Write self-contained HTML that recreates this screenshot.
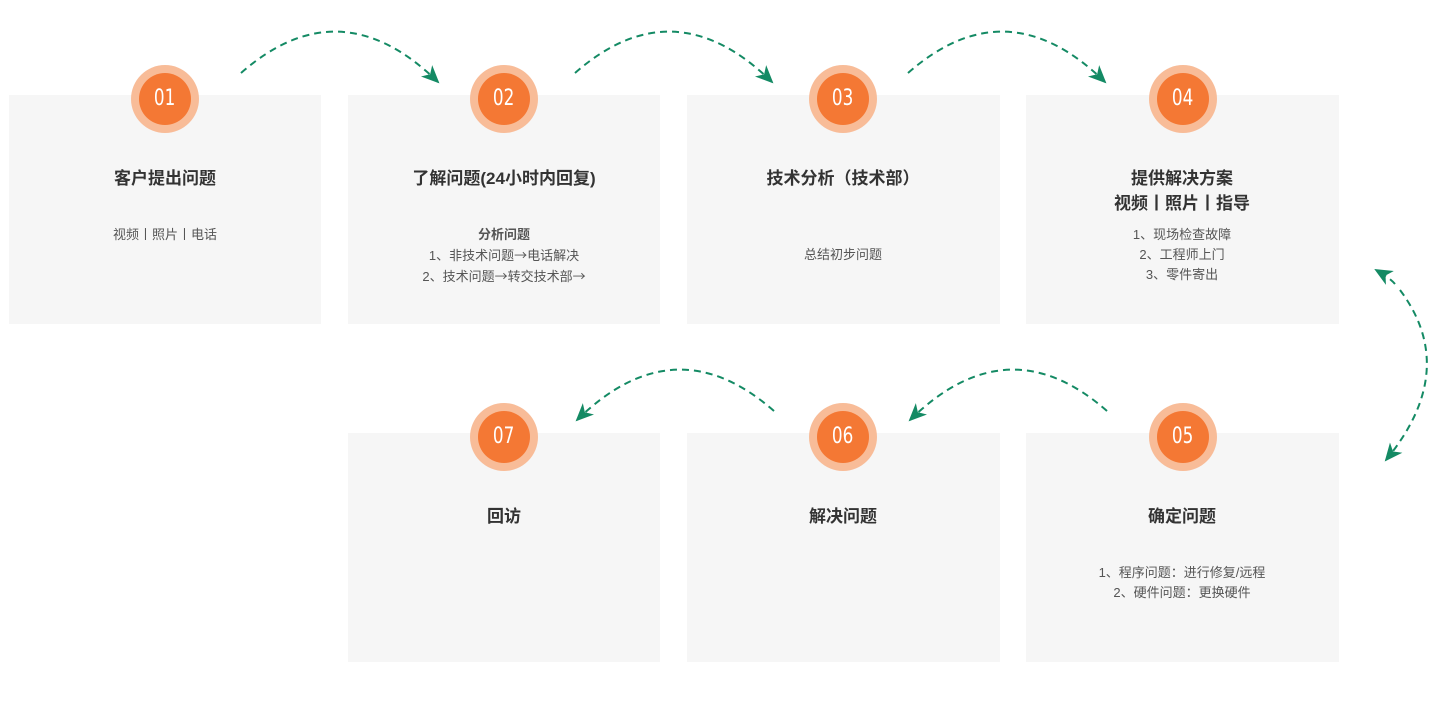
<!DOCTYPE html>
<html><head><meta charset="utf-8"><style>
body{margin:0;width:1447px;height:705px;background:#fff;position:relative;overflow:hidden;font-family:"Liberation Sans","Noto Sans CJK SC",sans-serif;}
.box{position:absolute;background:#f6f6f6;width:312px;height:229px;}
.c{position:absolute;width:68px;height:68px;border-radius:50%;background:#f8bc98;}
.c div{position:absolute;left:8px;top:8px;width:52px;height:52px;border-radius:50%;background:#f47834;color:#fff;font:22px "DejaVu Sans Condensed","Liberation Sans Narrow",sans-serif;text-align:center;line-height:52px;}
.c span{display:inline-block;transform:scaleX(0.85);}
.t{position:absolute;width:312px;text-align:center;font-weight:bold;font-size:17px;color:#333;line-height:25px;}
.s{position:absolute;width:312px;text-align:center;font-size:13px;color:#555;line-height:20px;}
.ar{font-family:"Noto Sans CJK SC",sans-serif;}
</style></head><body>
<div class="box" style="left:9px;top:95px"></div>
<div class="box" style="left:348px;top:95px"></div>
<div class="box" style="left:687px;top:95px;width:313px"></div>
<div class="box" style="left:1026px;top:95px;width:313px"></div>
<div class="box" style="left:348px;top:433px"></div>
<div class="box" style="left:687px;top:433px;width:313px"></div>
<div class="box" style="left:1026px;top:433px;width:313px"></div>

<svg width="1447" height="705" style="position:absolute;left:0;top:0">
<defs><marker id="a" markerWidth="20" markerHeight="20" refX="16" refY="8" orient="auto" markerUnits="userSpaceOnUse"><path d="M0,0 L18,8 L0,16 L5,8z" fill="#148a64"/></marker></defs>
<g fill="none" stroke="#148a64" stroke-width="2" stroke-dasharray="7,5" marker-end="url(#a)">
<path d="M241,73 Q340,-14 438,82"/>
<path d="M575,73 Q674,-14 772,82"/>
<path d="M908,73 Q1007,-14 1105,82"/>
<path d="M774,411 Q675,324 577,420"/>
<path d="M1107,411 Q1008,324 910,420"/>
<path d="M1400,290 Q1460,370 1386,460"/>
<path d="M1395,284 Q1390,278 1376,270"/>
</g>
</svg>

<div class="c" style="left:131px;top:65px"><div><span>01</span></div></div>
<div class="c" style="left:470px;top:65px"><div><span>02</span></div></div>
<div class="c" style="left:809px;top:65px"><div><span>03</span></div></div>
<div class="c" style="left:1149px;top:65px"><div><span>04</span></div></div>
<div class="c" style="left:470px;top:403px"><div><span>07</span></div></div>
<div class="c" style="left:809px;top:403px"><div><span>06</span></div></div>
<div class="c" style="left:1149px;top:403px"><div><span>05</span></div></div>

<div class="t" style="left:9px;top:166px">客户提出问题</div>
<div class="s" style="left:9px;top:225px">视频丨照片丨电话</div>
<div class="t" style="left:348px;top:166px">了解问题(24小时内回复)</div>
<div class="s" style="left:348px;top:225px"><b>分析问题</b><br>1、非技术问题<span class="ar">→</span>电话解决<br>2、技术问题<span class="ar">→</span>转交技术部<span class="ar">→</span></div>
<div class="t" style="left:687px;top:166px">技术分析（技术部）</div>
<div class="s" style="left:687px;top:245px">总结初步问题</div>
<div class="t" style="left:1026px;top:166px">提供解决方案<br>视频丨照片丨指导</div>
<div class="s" style="left:1026px;top:225px">1、现场检查故障<br>2、工程师上门<br>3、零件寄出</div>
<div class="t" style="left:348px;top:504px">回访</div>
<div class="t" style="left:687px;top:504px">解决问题</div>
<div class="t" style="left:1026px;top:504px">确定问题</div>
<div class="s" style="left:1026px;top:563px">1、程序问题：进行修复/远程<br>2、硬件问题：更换硬件</div>
</body></html>
